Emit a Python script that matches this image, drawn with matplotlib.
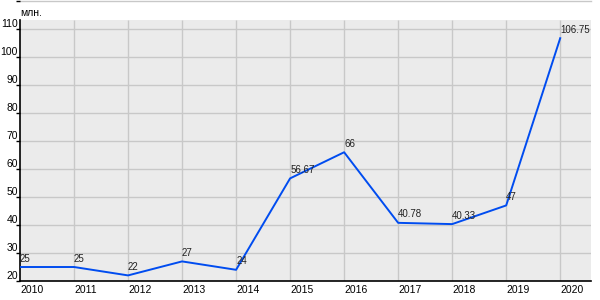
import matplotlib
matplotlib.use("Agg")
import matplotlib.pyplot as plt

years = [2010, 2011, 2012, 2013, 2014, 2015, 2016, 2017, 2018, 2019, 2020]
values = [25, 25, 22, 27, 24, 56.67, 66, 40.78, 40.33, 47, 106.75]
labels = ["25", "25", "22", "27", "24", "56.67", "66", "40.78", "40.33", "47", "106.75"]
yticks = [20, 30, 40, 50, 60, 70, 80, 90, 100, 110, 120]
unit = "млн."

plt.rcParams['font.family'] = ['Liberation Sans', 'DejaVu Sans']

fig = plt.figure(figsize=(6, 3), dpi=100)
ax = fig.add_axes([20/600, 19/300, 571/600, 1 - 19/300])
ax.set_xlim(2010, 2020.57)
ax.set_ylim(20, 120.4)
ax.set_facecolor('white')

top_gray = 113.2
ax.axhspan(20, top_gray, color='#ebebeb', zorder=0, lw=0)
for yv in yticks[1:-1]:
    ax.axhline(yv, color='#c8c8c8', lw=1.0, zorder=1)
ax.axhline(120, color='#c8c8c8', lw=1.0, zorder=1, clip_on=False)
ax.vlines(years[1:], 20, top_gray, color='#c8c8c8', lw=1.0, zorder=1)

ax.plot(years, values, color='#004cf0', lw=1.4, zorder=3)
for x, y, t in zip(years, values, labels):
    ax.annotate(t, (x, y), xytext=(0, 2.5), textcoords='offset points',
                ha='left', va='bottom', fontsize=7, color='#222222', zorder=4)

for s in ['top', 'right']:
    ax.spines[s].set_visible(False)
ax.spines['left'].set_bounds(20, top_gray)
ax.spines['left'].set_linewidth(1.2)
ax.spines['bottom'].set_linewidth(1.2)

ax.set_yticks(yticks)
ax.set_yticklabels([str(v) for v in yticks], fontsize=7.5)
for lab in ax.get_yticklabels():
    lab.set_va('bottom')
ax.tick_params(axis='y', length=3, pad=-1.5, width=1)
ax.set_xticks(years)
ax.set_xticklabels([str(v) for v in years], fontsize=7.5)
for lab in ax.get_xticklabels():
    lab.set_ha('left')
ax.tick_params(axis='x', length=0, pad=3)

fig.text(20/600, 1 - 13/300, unit, fontsize=7.5, va='center', ha='left')

fig.savefig('out.png', dpi=100)
